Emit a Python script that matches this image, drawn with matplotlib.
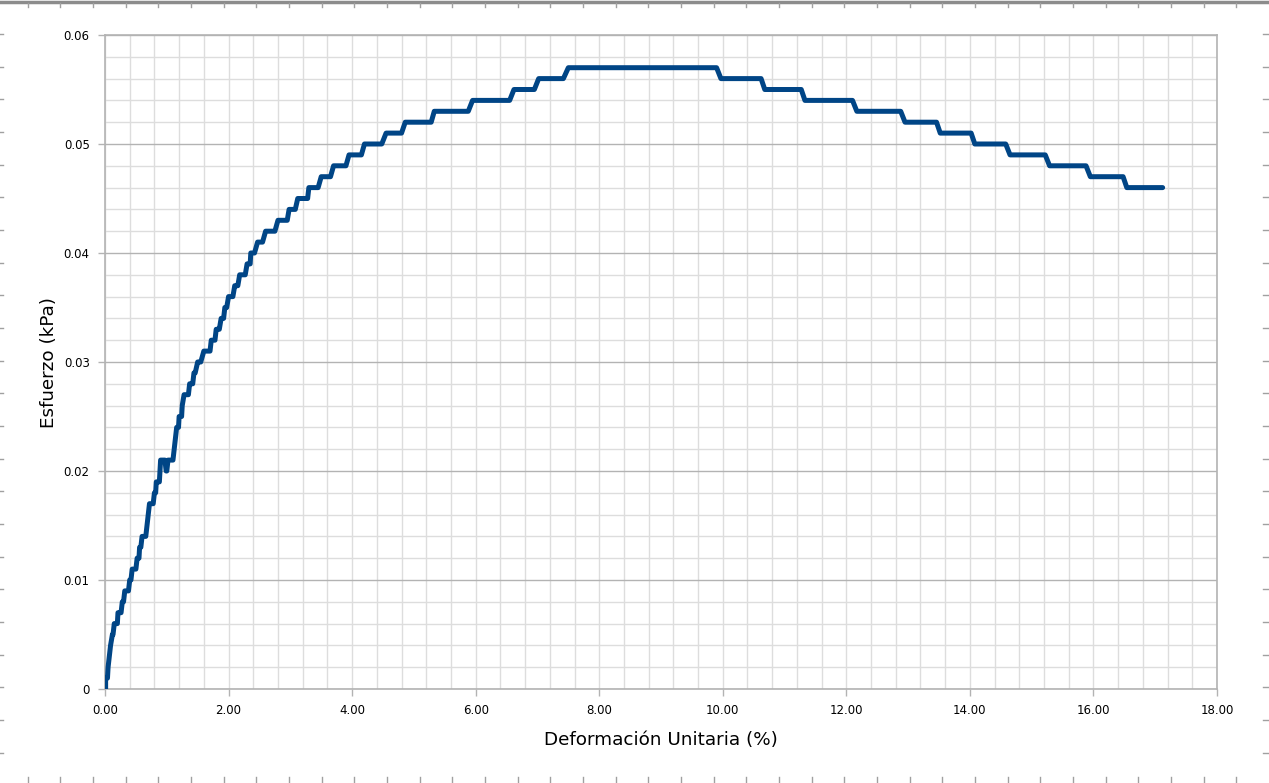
import matplotlib
matplotlib.use("Agg")
import matplotlib.pyplot as plt
from matplotlib.lines import Line2D
from matplotlib.ticker import MultipleLocator, FuncFormatter
import numpy as np

# Stress levels (kPa) and plateau start/end strain (%) for each level, in order along the curve
levels = [0.000, 0.001, 0.002, 0.003, 0.004, 0.005, 0.006, 0.007, 0.008, 0.009,
          0.010, 0.011, 0.012, 0.013, 0.014, 0.015, 0.016, 0.017, 0.018, 0.019,
          0.020, 0.021, 0.020, 0.021, 0.022, 0.023, 0.024, 0.025, 0.026, 0.027,
          0.028, 0.029, 0.030, 0.031, 0.032, 0.033, 0.034, 0.035, 0.036, 0.037,
          0.038, 0.039, 0.040, 0.041, 0.042, 0.043, 0.044, 0.045, 0.046, 0.047,
          0.048, 0.049, 0.050, 0.051, 0.052, 0.053, 0.054, 0.055, 0.056, 0.057,
          0.056, 0.055, 0.054, 0.053, 0.052, 0.051, 0.050, 0.049, 0.048, 0.047,
          0.046]
x_start = [0.00, 0.01, 0.05, 0.07, 0.09, 0.12, 0.15, 0.21, 0.28, 0.32,
           0.40, 0.44, 0.52, 0.56, 0.60, 0.68, 0.70, 0.72, 0.80, 0.83,
           0.89, 0.90, 0.99, 1.02, 1.12, 1.14, 1.16, 1.20, 1.25, 1.28,
           1.37, 1.44, 1.50, 1.60, 1.72, 1.80, 1.88, 1.94, 2.00, 2.10,
           2.18, 2.30, 2.36, 2.47, 2.60, 2.80, 2.98, 3.12, 3.30, 3.50,
           3.70, 3.95, 4.20, 4.55, 4.86, 5.33, 5.95, 6.62, 7.02, 7.50,
           9.97, 10.68, 11.33, 12.17, 12.95, 13.52, 14.08, 14.65, 15.29, 15.95,
           16.54]
x_end = [0.01, 0.04, 0.05, 0.07, 0.09, 0.13, 0.20, 0.26, 0.30, 0.38,
         0.42, 0.50, 0.55, 0.58, 0.66, 0.68, 0.70, 0.78, 0.82, 0.88,
         0.89, 0.97, 1.00, 1.10, 1.12, 1.14, 1.19, 1.24, 1.25, 1.35,
         1.42, 1.46, 1.55, 1.70, 1.78, 1.85, 1.92, 1.97, 2.07, 2.15,
         2.27, 2.35, 2.42, 2.55, 2.75, 2.95, 3.08, 3.28, 3.45, 3.65,
         3.90, 4.15, 4.48, 4.80, 5.28, 5.88, 6.55, 6.95, 7.42, 9.90,
         10.62, 11.27, 12.10, 12.88, 13.46, 14.02, 14.58, 15.22, 15.88, 16.48,
         17.12]

xticks = [0, 2, 4, 6, 8, 10, 12, 14, 16, 18]
yticks = [0, 0.01, 0.02, 0.03, 0.04, 0.05, 0.06]

xs, ys = [], []
for lv, a, b in zip(levels, x_start, x_end):
    xs += [a, b]
    ys += [lv, lv]

W, H = 1269, 783
fig = plt.figure(figsize=(W / 100, H / 100), dpi=100)
ax = fig.add_axes([105 / W, (H - 689) / H, (1217 - 105) / W, (689 - 35) / H])

ax.plot(xs, ys, color="#004586", lw=3.6, solid_joinstyle="round", solid_capstyle="round", zorder=3)

ax.set_xlim(0, 18)
ax.set_ylim(0, 0.06)
ax.set_xticks(xticks)
ax.set_yticks(yticks)
ax.xaxis.set_minor_locator(MultipleLocator(0.4))
ax.yaxis.set_minor_locator(MultipleLocator(0.002))
ax.xaxis.set_major_formatter(FuncFormatter(lambda v, p: f"{v:.2f}"))
ax.yaxis.set_major_formatter(FuncFormatter(lambda v, p: "0" if abs(v) < 1e-12 else f"{v:.2f}"))

ax.grid(which="major", axis="y", color="#b3b3b3", lw=1.0, zorder=1)
ax.grid(which="major", axis="x", color="#dddddd", lw=1.0, zorder=0)
ax.grid(which="minor", color="#dddddd", lw=1.0, zorder=0)
ax.set_axisbelow(True)
for s in ax.spines.values():
    s.set_color("#b3b3b3")
    s.set_linewidth(1.2)
ax.tick_params(which="major", direction="out", length=5, width=1, color="#b3b3b3",
               labelsize=8.5, labelcolor="black", pad=6)
ax.tick_params(which="minor", length=0)

ax.set_xlabel("Deformación Unitaria (%)", fontsize=13.2, labelpad=10)
ax.set_ylabel("Esfuerzo (kPa)", fontsize=13.2, labelpad=4)

# page frame decorations (ruler-like marks)
def fl(x0, y0, x1, y1, c="#a0a0a0", lw=1.0):
    fig.add_artist(Line2D([x0 / W, x1 / W], [1 - y0 / H, 1 - y1 / H], color=c, lw=lw,
                          transform=fig.transFigure))

fl(0, 1.5, W, 1.5, c="#8c8c8c", lw=2.5)
for k in range(40):
    x = 27.7 + k * 32.67
    if x < W - 5:
        fl(x, 3, x, 7)
        fl(x, 777, x, 783)
for k in range(25):
    y = 34 + k * 32.67
    if y < H - 5:
        fl(0, y, 3, y)
        fl(W - 6, y, W, y)

fig.savefig("out.png", dpi=100)
